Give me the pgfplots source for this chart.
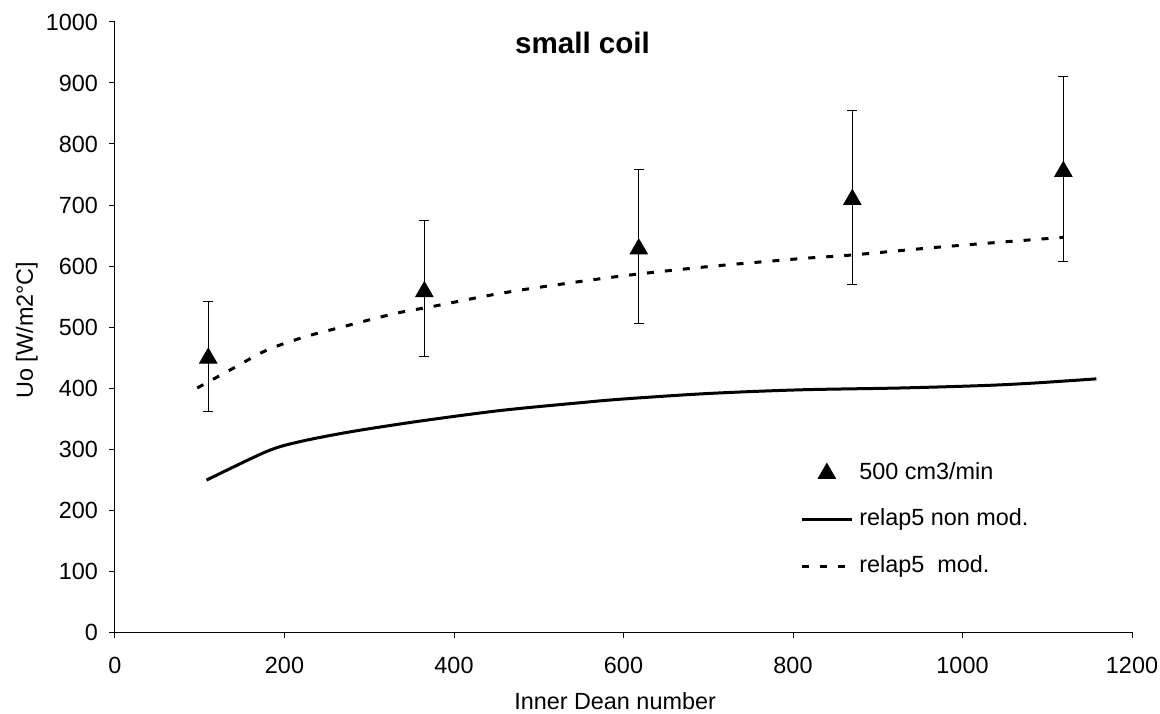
\documentclass[border=0pt]{standalone}
\usepackage{fontspec}
\setmainfont{Liberation Sans}
\usepackage{pgfplots}
\usepackage{pgfplotstable}
\pgfplotsset{compat=1.18}
\pgfplotstableread{
x y ep em
110 449 92 88
365 558 117 107
618 628 131 123
870 709 146 139
1119 755 155 148
}\exptab
\pgfplotstableread{
x y
108 249
179 296
218 312
277 328
356 345
454 363
550 376
600 382
700 391
808 397
926 400
1024 404
1083 408
1158 415
}\nonmod
\pgfplotstableread{
x y
97 400
139 432
179 462
222 483
265 499
330 522
376 534
442 552
500 565
600 584
700 599
808 612
869 618
981 632
1119 647
}\modtab
\begin{document}
\begin{tikzpicture}
\path[use as bounding box] (-57.5pt,-40.5pt) rectangle (522.5pt,316pt);
\begin{axis}[
  at={(0,0)}, anchor=south west,
  scale only axis, width=508.5pt, height=305pt,
  xmin=0, xmax=1200, ymin=0, ymax=1000,
  xtick={0,200,...,1200}, ytick={0,100,...,1000},
  axis x line*=bottom, axis y line*=left,
  axis line style={line width=0.5pt, black},
  tick align=outside, major tick length=3pt,
  tick style={black, line width=0.5pt},
  ticklabel style={font=\fontsize{11.7}{13}\selectfont},
  xticklabel style={yshift=-6pt},
  yticklabel style={xshift=-2pt},
  /pgf/number format/assume math mode=true,
  /pgf/number format/1000 sep={},
  xlabel={Inner Dean number},
  ylabel={Uo [W/m2°C]},
  label style={font=\fontsize{11.7}{13}\selectfont, inner sep=0pt},
  xlabel style={at={(0.4917,0)}, anchor=base, yshift=-38.5pt},
  ylabel style={at={(0,0.495)}, anchor=base, yshift=41pt},
  legend style={draw=none, fill=none, at={(0.6735,0.2804)}, anchor=north west,
    inner sep=0pt, row sep=11.25pt, column sep=2pt,
    nodes={font=\fontsize{11.7}{13}\selectfont, inner sep=1pt, text height=8pt, text depth=2pt}},
  legend cell align=left,
  legend image code/.code={\draw[mark repeat=2, mark phase=2, #1] plot coordinates {(0pt,0pt) (12.5pt,0pt) (25pt,0pt)};},
]
\addplot[only marks, mark=triangle*, mark size=5pt, black,
  error bars/.cd, y dir=both, y explicit,
  error bar style={line width=0.5pt, black},
  error mark options={rotate=90, mark size=2.5pt, line width=0.5pt, black}]
  table[x=x, y=y, y error plus=ep, y error minus=em] {\exptab};
\addlegendentry{500 cm3/min}
\addplot[black, line width=1.5pt, smooth, no marks] table[x=x, y=y] {\nonmod};
\addlegendentry{relap5 non mod.}
\addplot[black, line width=1.5pt, smooth, no marks, dash pattern=on 3.5pt off 5.5pt] table[x=x, y=y] {\modtab};
\addlegendentry{relap5\ \ mod.}
\node[font=\fontsize{14.8}{17}\selectfont\bfseries, anchor=base, inner sep=0pt] at (rel axis cs:0.4597,0.9487) {small coil};
\end{axis}
\end{tikzpicture}
\end{document}
